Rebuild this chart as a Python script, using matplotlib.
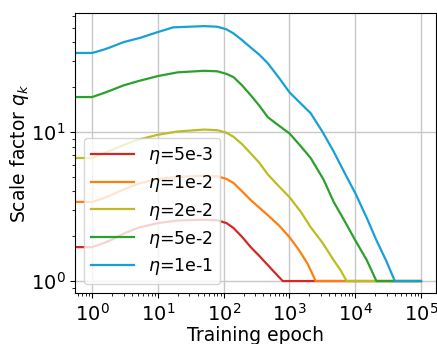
import matplotlib
matplotlib.use("Agg")
import matplotlib.pyplot as plt

# values (epoch, scale factor)
labels = [r"$\eta$=5e-3", r"$\eta$=1e-2", r"$\eta$=2e-2", r"$\eta$=5e-2", r"$\eta$=1e-1"]
colors = ["#d62728", "#ff7f0e", "#bcbd22", "#2ca02c", "#17a0d4"]

ep_red = [0.55, 1, 1.5, 2, 3, 5, 10, 20, 50, 80, 110, 141, 190, 257, 350, 468, 620, 790, 1e5]
q_red = [1.69, 1.69, 1.8, 1.9, 2.08, 2.28, 2.45, 2.55, 2.58, 2.56, 2.45, 2.27, 1.98, 1.69, 1.47, 1.28, 1.12, 1.0, 1.0]

ep_orange = [0.55, 1, 1.5, 2, 3, 5, 10, 20, 50, 80, 110, 141, 190, 257, 350, 468, 700, 1000, 1400, 1900, 2500, 1e5]
q_orange = [3.4, 3.4, 3.6, 3.8, 4.12, 4.5, 4.85, 5.0, 5.1, 5.05, 4.85, 4.55, 4.0, 3.5, 3.1, 2.77, 2.35, 1.97, 1.61, 1.3, 1.0, 1.0]

ep_yellow = [0.55, 1, 1.5, 2, 3, 5, 10, 20, 50, 80, 110, 141, 190, 257, 350, 468, 700, 1000, 1500, 2100, 3200, 4700, 6000, 7400, 1e5]
q_yellow = [6.7, 6.7, 7.2, 7.6, 8.2, 8.9, 9.6, 10.1, 10.4, 10.3, 9.9, 9.3, 8.3, 7.2, 6.2, 5.2, 4.3, 3.66, 2.9, 2.3, 1.8, 1.38, 1.18, 1.0, 1.0]

ep_green = [0.55, 1, 1.5, 2, 3, 5, 10, 20, 50, 80, 110, 141, 190, 257, 350, 468, 700, 1000, 1500, 2100, 3300, 4700, 7000, 10000, 15000, 21000, 1e5]
q_green = [17.2, 17.2, 18.3, 19.2, 20.6, 22.0, 23.8, 25.2, 25.8, 25.6, 24.6, 23.4, 20.6, 17.7, 15.0, 12.6, 11.0, 9.8, 8.0, 6.7, 4.8, 3.4, 2.5, 1.88, 1.38, 1.0, 1.0]

ep_blue = [0.55, 1, 1.5, 2, 3, 5.4, 10, 17, 50, 80, 110, 141, 190, 257, 350, 468, 700, 1000, 1500, 2100, 3200, 4700, 7600, 10000, 15000, 21000, 30000, 40000, 1e5]
q_blue = [34, 34, 35.8, 37.5, 40.2, 43, 47, 50.5, 51.5, 51, 49, 46, 41.5, 37, 33, 29, 23, 18.5, 15.5, 13.4, 10.0, 7.4, 4.9, 3.9, 2.65, 1.88, 1.35, 1.0, 1.0]

epochs = [ep_red, ep_orange, ep_yellow, ep_green, ep_blue]
scales = [q_red, q_orange, q_yellow, q_green, q_blue]

plt.rcParams["font.size"] = 14

fig = plt.figure(figsize=(4.37, 3.44), dpi=100)
ax = fig.add_axes([0.172, 0.148, 0.826, 0.814])

for x, y, c, lab in zip(epochs, scales, colors, labels):
    ax.plot(x, y, color=c, lw=1.6, label=lab)

ax.set_xscale("log")
ax.set_yscale("log")
ax.set_xlim(0.55, 1.7e5)
ax.set_ylim(0.83, 63)
ax.grid(True, which="major", color="#c8c8c8", lw=1.0)
ax.set_xlabel("Training epoch", fontsize=13.5, labelpad=1)
ax.set_ylabel("Scale factor $q_k$", fontsize=13.5, labelpad=0)
ax.set_xticks([1, 10, 100, 1000, 1e4, 1e5])
ax.legend(loc="lower left", fontsize=12.5, handlelength=2.5, labelspacing=0.4)

fig.savefig("out.png", dpi=100)
